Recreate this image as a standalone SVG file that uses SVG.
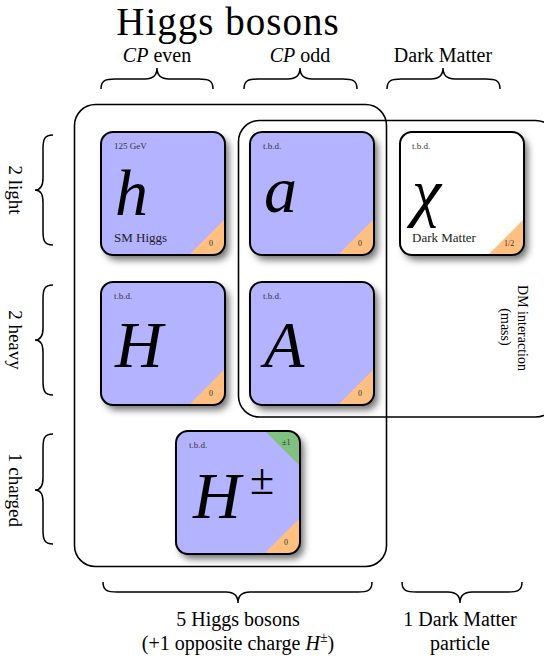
<svg xmlns="http://www.w3.org/2000/svg" width="544" height="666" viewBox="0 0 544 666">
<style>
text{font-family:"Liberation Serif","DejaVu Serif",serif;fill:#000}
.tile{fill:#b3b3ff}
.dm{fill:#fff}
.edge{fill:none;stroke:#000;stroke-width:2}
.frame{fill:none;stroke:#000;stroke-width:1.6}
.brace{fill:none;stroke:#000;stroke-width:1.5}
.big{font-style:italic;font-size:66px}
.small{font-size:9px;fill:#333}
.corner{font-size:8px;fill:#333}
.name{font-size:13px;fill:#222}
.lab{font-size:20px}
.side{font-size:19px}
.dmi{font-size:14px}
</style>
<defs>
<filter id="sh" x="-20%" y="-20%" width="150%" height="150%">
<feDropShadow dx="4" dy="5" stdDeviation="3.5" flood-color="#000" flood-opacity="0.55"/>
</filter>
<clipPath id="tc"><rect x="0" y="0" width="124" height="123" rx="12"/></clipPath>
</defs>

<g id="title">
<text x="228" y="35" font-size="39" letter-spacing="1" text-anchor="middle">Higgs bosons</text>
<text class="lab" x="157" y="62" text-anchor="middle"><tspan font-style="italic">CP</tspan> even</text>
<text class="lab" x="300" y="62" text-anchor="middle"><tspan font-style="italic">CP</tspan> odd</text>
<text class="lab" x="443" y="62" text-anchor="middle">Dark Matter</text>
</g>

<g id="frames">
<rect class="frame" x="74.5" y="104.5" width="312" height="462" rx="21"/>
<rect class="frame" x="238.5" y="120.5" width="318" height="296.5" rx="21"/>
</g>

<g id="braces">
<path class="brace" d="M101,89 C101,80 106,79 115,79 L145,79 C153,79 157,76 157,68 C157,76 161,79 169,79 L199,79 C208,79 213,80 213,89"/>
<path class="brace" d="M244,89 C244,80 249,79 258,79 L288,79 C296,79 300,76 300,68 C300,76 304,79 312,79 L343,79 C352,79 357,80 357,89"/>
<path class="brace" d="M387,89 C387,80 392,79 401,79 L431,79 C439,79 443,76 443,68 C443,76 447,79 455,79 L486,79 C495,79 500,80 500,89"/>
<path class="brace" d="M103,582 C103,591 108,592 117,592 L226,592 C234,592 238,595 238,603 C238,595 242,592 250,592 L358,592 C367,592 372,591 372,582"/>
<path class="brace" d="M402,582 C402,591 407,592 416,592 L448,592 C456,592 460,595 460,603 C460,595 464,592 472,592 L508,592 C517,592 522,591 522,582"/>
<path class="brace" d="M53,135 C44,135 43,140 43,149 L43,178 C43,186 40,190 35,190 C40,190 43,194 43,202 L43,231 C43,240 44,245 53,245"/>
<path class="brace" d="M53,285 C44,285 43,290 43,299 L43,328 C43,336 40,340 35,340 C40,340 43,344 43,352 L43,381 C43,390 44,395 53,395"/>
<path class="brace" d="M53,434 C44,434 43,439 43,448 L43,478 C43,486 40,490 35,490 C40,490 43,494 43,502 L43,530 C43,539 44,544 53,544"/>
</g>

<g id="side-labels">
<text class="side" transform="translate(9,190) rotate(90)" text-anchor="middle">2 light</text>
<text class="side" transform="translate(9,340) rotate(90)" text-anchor="middle">2 heavy</text>
<text class="side" transform="translate(9,490) rotate(90)" text-anchor="middle">1 charged</text>
<text class="dmi" transform="translate(518,328) rotate(90)" text-anchor="middle">DM interaction</text>
<text class="dmi" transform="translate(501,327) rotate(90)" text-anchor="middle">(mass)</text>
</g>

<g id="bottom-labels">
<text class="lab" x="238" y="626" text-anchor="middle">5 Higgs bosons</text>
<text class="lab" x="238" y="650" text-anchor="middle">(+1 opposite charge <tspan font-style="italic">H</tspan><tspan font-size="14" dy="-8">±</tspan><tspan dy="8">)</tspan></text>
<text class="lab" x="460" y="626" text-anchor="middle">1 Dark Matter</text>
<text class="lab" x="460" y="650" text-anchor="middle">particle</text>
</g>

<g id="tile-h" transform="translate(101,132)">
<rect class="tile" width="124" height="123" rx="12" filter="url(#sh)"/>
<polygon points="88,123 124,123 124,87" fill="#ffbf80" clip-path="url(#tc)"/>
<rect class="edge" width="124" height="123" rx="12"/>
<text class="small" x="13" y="17">125 GeV</text>
<text class="big" x="14" y="83">h</text>
<text class="name" x="13" y="110">SM Higgs</text>
<text class="corner" x="108" y="114">0</text>
</g>

<g id="tile-a" transform="translate(250,132)">
<rect class="tile" width="124" height="123" rx="12" filter="url(#sh)"/>
<polygon points="88,123 124,123 124,87" fill="#ffbf80" clip-path="url(#tc)"/>
<rect class="edge" width="124" height="123" rx="12"/>
<text class="small" x="13" y="17">t.b.d.</text>
<text class="big" x="14" y="80">a</text>
<text class="corner" x="108" y="114">0</text>
</g>

<g id="tile-chi" transform="translate(400,132)">
<rect class="dm" width="124" height="123" rx="12" filter="url(#sh)"/>
<polygon points="88,123 124,123 124,87" fill="#ffbf80" clip-path="url(#tc)"/>
<rect class="edge" width="124" height="123" rx="12"/>
<text class="small" x="12" y="17">t.b.d.</text>
<text class="big" x="12" y="82">χ</text>
<text class="name" x="12" y="110">Dark Matter</text>
<text class="corner" x="104" y="114">1/2</text>
</g>

<g id="tile-H" transform="translate(101,282)">
<rect class="tile" width="124" height="123" rx="12" filter="url(#sh)"/>
<polygon points="88,123 124,123 124,87" fill="#ffbf80" clip-path="url(#tc)"/>
<rect class="edge" width="124" height="123" rx="12"/>
<text class="small" x="13" y="17">t.b.d.</text>
<text class="big" x="14" y="85">H</text>
<text class="corner" x="108" y="114">0</text>
</g>

<g id="tile-A" transform="translate(250,282)">
<rect class="tile" width="124" height="123" rx="12" filter="url(#sh)"/>
<polygon points="88,123 124,123 124,87" fill="#ffbf80" clip-path="url(#tc)"/>
<rect class="edge" width="124" height="123" rx="12"/>
<text class="small" x="13" y="17">t.b.d.</text>
<text class="big" x="14" y="85">A</text>
<text class="corner" x="108" y="114">0</text>
</g>

<g id="tile-Hpm" transform="translate(176,431)">
<rect class="tile" width="124" height="123" rx="12" filter="url(#sh)"/>
<polygon points="88,123 124,123 124,87" fill="#ffbf80" clip-path="url(#tc)"/>
<polygon points="89,0 124,0 124,35" fill="#80c080" clip-path="url(#tc)"/>
<rect class="edge" width="124" height="123" rx="12"/>
<text class="small" x="13" y="17">t.b.d.</text>
<text class="corner" x="106" y="14">±1</text>
<text class="big" x="17" y="87">H</text>
<text x="74" y="63" font-size="44">±</text>
<text class="corner" x="108" y="114">0</text>
</g>
</svg>
